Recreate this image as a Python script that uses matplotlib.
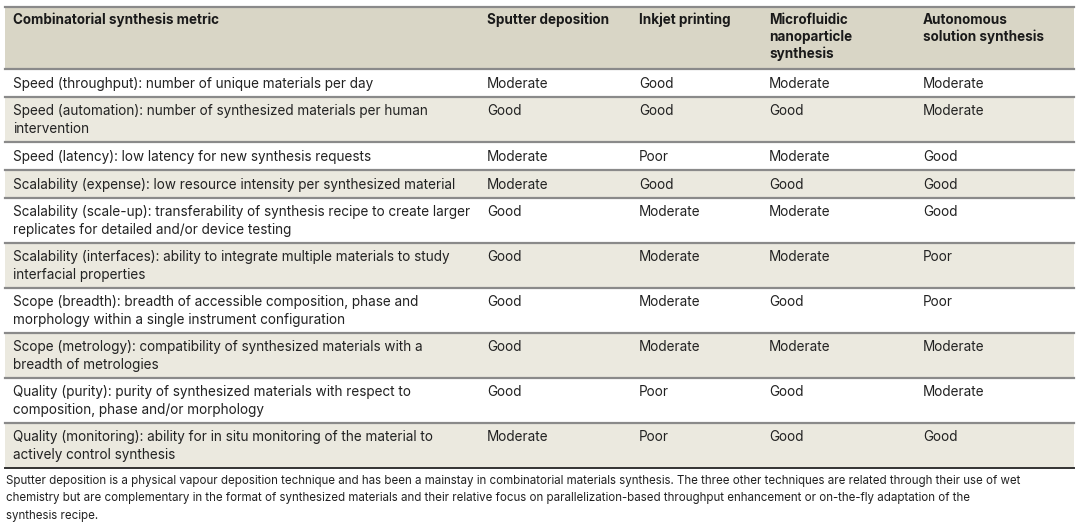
import matplotlib
matplotlib.use('Agg')
import matplotlib.pyplot as plt
from matplotlib.patches import Rectangle

# Cabeceras de columna
headers = ['Combinatorial synthesis metric', 'Sputter deposition', 'Inkjet printing',
           'Microfluidic\nnanoparticle\nsynthesis', 'Autonomous\nsolution synthesis']

# Métricas (primera columna)
metrics = [
    'Speed (throughput): number of unique materials per day',
    'Speed (automation): number of synthesized materials per human\nintervention',
    'Speed (latency): low latency for new synthesis requests',
    'Scalability (expense): low resource intensity per synthesized material',
    'Scalability (scale-up): transferability of synthesis recipe to create larger\nreplicates for detailed and/or device testing',
    'Scalability (interfaces): ability to integrate multiple materials to study\ninterfacial properties',
    'Scope (breadth): breadth of accessible composition, phase and\nmorphology within a single instrument configuration',
    'Scope (metrology): compatibility of synthesized materials with a\nbreadth of metrologies',
    'Quality (purity): purity of synthesized materials with respect to\ncomposition, phase and/or morphology',
    'Quality (monitoring): ability for in situ monitoring of the material to\nactively control synthesis',
]

sputter = ['Moderate', 'Good', 'Moderate', 'Moderate', 'Good', 'Good', 'Good', 'Good', 'Good', 'Moderate']
inkjet = ['Good', 'Good', 'Poor', 'Good', 'Moderate', 'Moderate', 'Moderate', 'Moderate', 'Poor', 'Poor']
microfluidic = ['Moderate', 'Good', 'Moderate', 'Good', 'Moderate', 'Moderate', 'Good', 'Moderate', 'Good', 'Good']
autonomous = ['Moderate', 'Moderate', 'Good', 'Good', 'Good', 'Poor', 'Poor', 'Moderate', 'Moderate', 'Good']

footnote = ('Sputter deposition is a physical vapour deposition technique and has been a mainstay in combinatorial materials synthesis. '
            'The three other techniques are related through their use of wet\n'
            'chemistry but are complementary in the format of synthesized materials and their relative focus on '
            'parallelization-based throughput enhancement or on-the-fly adaptation of the\n'
            'synthesis recipe.')

FONT = 'Inter'
col_x = [13, 487, 639, 769, 923]
left, right = 5, 1074


def draw_lines(ax, x, y0, text, step, **kw):
    # cada línea se coloca por su línea base
    for k, line in enumerate(text.split('\n')):
        ax.text(x, y0 + k * step, line, family=FONT, va='baseline', ha='left', **kw)


fig = plt.figure(figsize=(10.8, 5.26), dpi=100)
ax = fig.add_axes([0, 0, 1, 1])
ax.set_xlim(0, 1080)
ax.set_ylim(526, 0)
ax.axis('off')

# Cabecera
top = 7
head_h = 62
ax.add_patch(Rectangle((left, top), right - left, head_h, color='#d9d6c6', lw=0))
for x, h in zip(col_x, headers):
    draw_lines(ax, x, top + 17, h, 16.8, fontsize=9.7, fontweight='bold', color='#1a1a1a')
ax.plot([left, right], [top, top], color='#8a8a8a', lw=1.6)

y = top + head_h
rows = list(zip(metrics, sputter, inkjet, microfluidic, autonomous))
for i, row in enumerate(rows):
    nlines = row[0].count('\n') + 1
    h = 28 if nlines == 1 else 45
    if i % 2 == 1:
        ax.add_patch(Rectangle((left, y), right - left, h, color='#ebe9df', lw=0))
    ax.plot([left, right], [y, y], color='#8a8a8a', lw=1.6)
    base = y + 19 if nlines == 1 else y + 18
    for x, t in zip(col_x, row):
        draw_lines(ax, x, base, t, 18, fontsize=9.75, color='#222222')
    y += h
ax.plot([left, right], [y, y], color='#333333', lw=1.4)

draw_lines(ax, 6, y + 16, footnote, 17.5, fontsize=8.3, color='#222222')

plt.savefig('out.png', dpi=100)
